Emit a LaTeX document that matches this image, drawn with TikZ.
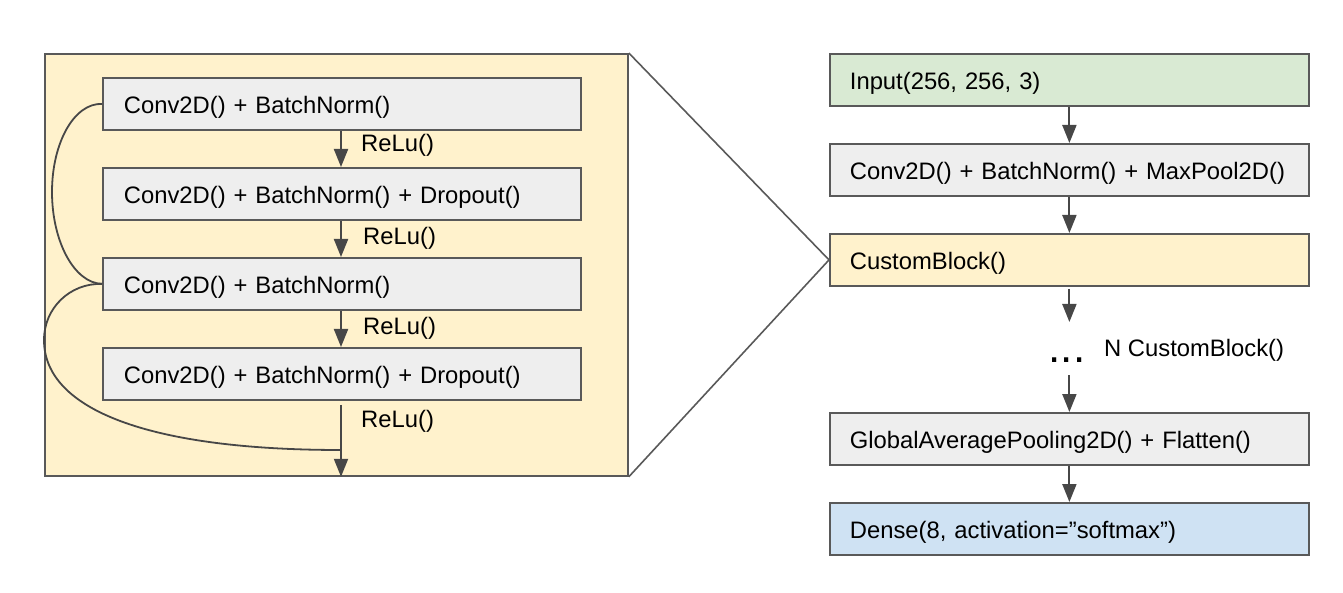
\documentclass[tikz,border=0pt]{standalone}
\usepackage{fontspec}
\setmainfont{Liberation Sans}
\usetikzlibrary{arrows.meta}
\definecolor{panelfill}{HTML}{FFF2CC}
\definecolor{grayfill}{HTML}{EEEEEE}
\definecolor{greenfill}{HTML}{D9EAD3}
\definecolor{bluefill}{HTML}{CFE2F3}
\definecolor{edge}{HTML}{595959}
\definecolor{arrowc}{HTML}{474747}
\begin{document}
\begin{tikzpicture}[x=1pt,y=-1pt,
  font=\fontsize{23.8}{28}\selectfont,
  boxl/.style={draw=edge, line width=1.8pt, fill=grayfill, minimum width=478pt, minimum height=52pt,
    text width=436pt, inner xsep=21pt, inner ysep=0pt, text height=21pt, text depth=1pt,
    align=left, anchor=north west},
  boxr/.style={draw=edge, line width=1.8pt, fill=grayfill, minimum width=479pt, minimum height=52pt,
    text width=439pt, inner xsep=20pt, inner ysep=0pt, text height=21pt, text depth=1pt,
    align=left, anchor=north west},
  lbl/.style={anchor=west, inner sep=0pt},
  arr/.style={draw=arrowc, line width=2pt, -{Triangle[width=14pt,length=18pt]}},
  link/.style={draw=arrowc, line width=1.8pt},
  zoomline/.style={draw=edge, line width=1.6pt}]
\useasboundingbox (0,0) rectangle (1343,593);

% left panel
\node[draw=edge, line width=1.8pt, fill=panelfill, minimum width=583pt, minimum height=422pt,
  anchor=north west, inner sep=0pt] (panel) at (44,53) {};

\node[boxl] (b1) at (102,77) {Conv2D() + BatchNorm()};
\node[boxl] (b2) at (102,167) {Conv2D() + BatchNorm() + Dropout()};
\node[boxl] (b3) at (102,257) {Conv2D() + BatchNorm()};
\node[boxl] (b4) at (102,347) {Conv2D() + BatchNorm() + Dropout()};

\draw[arr] (b1.south -| 341,0) -- (b2.north -| 341,0);
\draw[arr] (b2.south -| 341,0) -- (b3.north -| 341,0);
\draw[arr] (b3.south -| 341,0) -- (b4.north -| 341,0);
\draw[arr, shorten <=4pt] (b4.south -| 341,0) -- (panel.south -| 341,0);

\node[lbl] (r1) at (361,145) {ReLu()};
\node[lbl] (r2) at (363,238) {ReLu()};
\node[lbl] (r3) at (363,328) {ReLu()};
\node[lbl] (r4) at (361,421) {ReLu()};

\coordinate (join) at (341,450);
\draw[link] (b1.west) .. controls (74,103) and (52,143) .. (52,192)
  .. controls (52,241) and (74,283) .. (b3.west);
\draw[link] (b3.west) .. controls (70,283) and (44,308) .. (44,340)
  .. controls (44,410) and (150,450) .. (join);

% right column
\node[boxr, fill=greenfill] (inp) at (829,53) {Input(256, 256, 3)};
\node[boxr] (conv) at (829,143) {Conv2D() + BatchNorm() + MaxPool2D()};
\node[boxr, fill=panelfill] (cb) at (829,233) {CustomBlock()};
\node[boxr] (gap) at (829,412) {GlobalAveragePooling2D() + Flatten()};
\node[boxr, fill=bluefill] (dense) at (829,502) {Dense(8, activation=”softmax”)};

\draw[arr] (inp.south) -- (conv.north);
\draw[arr] (conv.south) -- (cb.north);
\coordinate (dtop) at (1068,322);
\coordinate (dbot) at (1068,375);
\draw[arr, shorten <=2pt] (cb.south) -- (cb.south |- dtop);
\draw[arr] (gap.north |- dbot) -- (gap.north);
\draw[arr] (gap.south) -- (dense.north);

\node[inner sep=0pt, font=\fontsize{44}{44}\selectfont] (dots) at (1067,360) {...};
\node[lbl] (nlbl) at (1104,350) {N CustomBlock()};

% zoom lines
\draw[zoomline] (panel.north east) -- (cb.west);
\draw[zoomline] (panel.south east) -- (cb.west);
\end{tikzpicture}
\end{document}
